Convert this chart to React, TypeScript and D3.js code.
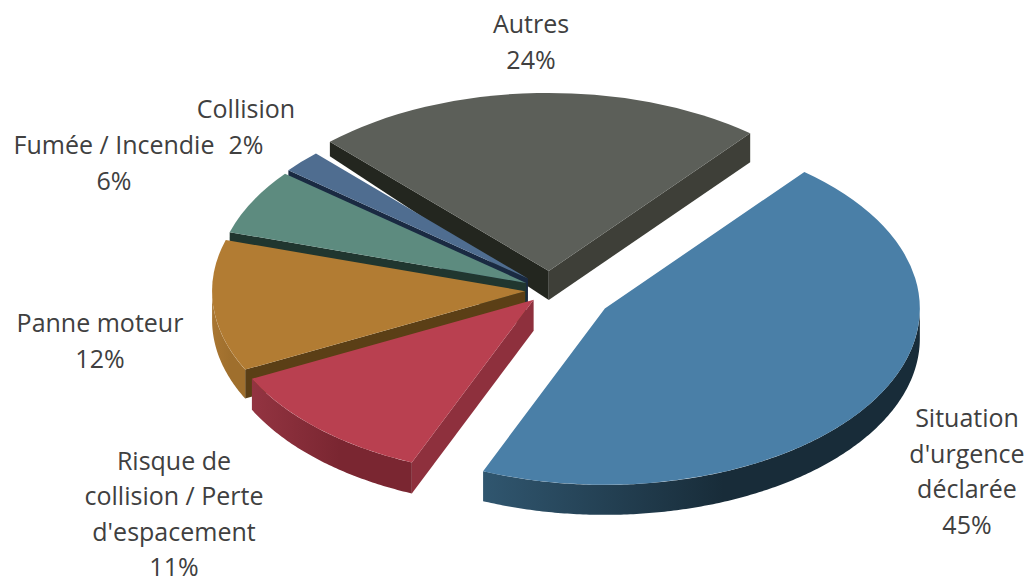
import * as d3 from "d3";

// values (labels show them rounded)
const categories = [
  "Situation d'urgence déclarée",
  "Risque de collision / Perte d'espacement",
  "Panne moteur",
  "Fumée / Incendie",
  "Collision",
  "Autres",
];
const values = [45.4, 11.3, 12.1, 6.1, 2.1, 23.0];

const explode = [64, 24, 25, 27, 30, 34];
const radii = [315, 315, 313, 310, 308, 318];
const depths = [30, 31, 29, 29, 29, 29];
const topColors = ["#4a7fa7", "#b94050", "#b27c33", "#5d8b7f", "#4f6d90", "#5c5f59"];
const cutColors = ["#1c3242", "#8e303d", "#5b3f16", "#20362f", "#1a2a42", "#23261f"];
const endCutColors = ["#1c3242", "#8e303d", "#5b3f16", "#20362f", "#1a2a42", "#3e3f38"];
const rimFrom = ["#30566f", "#933441", "#a97632", "#4f7a6f", "#3a5472", "#3e3f38"];
const rimTo = ["#182c39", "#7a2631", "#9f6f2d", "#4f7a6f", "#3a5472", "#3e3f38"];

// label lines, one list per text block
const labelBlocks = [
  { lines: ["Situation", "d'urgence", "déclarée", "45%"], x: 967, y: 427 },
  { lines: ["Risque de", "collision / Perte", "d'espacement", "11%"], x: 174, y: 469.5 },
  { lines: ["Panne moteur", "12%"], x: 100, y: 332 },
  { lines: ["Fumée / Incendie", "6%"], x: 114, y: 154 },
  { lines: ["Collision", "2%"], x: 246, y: 118 },
  { lines: ["Autres", "24%"], x: 531, y: 33 },
];

const width = 1026;
const height = 577;
const cx = 550;
const cy = 290;
const squash = 0.56;
const lineGap = 35.6;
const startAngle = (39.3 * Math.PI) / 180;

const pie = d3
  .pie<number>()
  .sort(null)
  .startAngle(startAngle)
  .endAngle(startAngle + 2 * Math.PI);
const arcs = pie(values);
const arc = d3.arc<d3.PieArcDatum<number>>().innerRadius(0);
const line = d3.line();

// point on the ellipse for a pie angle (0 = up, clockwise)
function rimPoint(a: number, r: number, drop = 0): [number, number] {
  return [r * Math.sin(a), -r * squash * Math.cos(a) + drop];
}

function cutWall(a: number, r: number, rimDrop: number, apexDrop: number) {
  const [x, y] = rimPoint(a, r);
  return line([
    [0, 0],
    [x, y],
    [x, y + rimDrop],
    [0, apexDrop],
  ]);
}

// only the part of the rim facing the viewer gets a wall
function rimWall(a0: number, a1: number, r: number, drop: number) {
  const from = Math.max(a0, Math.PI / 2);
  const to = Math.min(a1, (3 * Math.PI) / 2);
  if (from >= to) return null;
  const angles = d3.range(from, to, 0.01).concat(to);
  const top = angles.map((a) => rimPoint(a, r));
  const bottom = angles.map((a) => rimPoint(a, r, drop)).reverse();
  return line([...top, ...bottom]);
}

export default function App() {
  // back to front
  const order = [5, 4, 3, 2, 1, 0];
  return (
    <svg
      width={width}
      height={height}
      style={{ position: "absolute", left: 0, top: 0, background: "#fff" }}
    >
      <defs>
        {categories.map((_, i) => (
          <linearGradient key={i} id={`rim${i}`} x1="0" x2="1" y1="0" y2="0">
            <stop offset="0" stopColor={rimFrom[i]} />
            <stop offset="0.55" stopColor={rimTo[i]} />
          </linearGradient>
        ))}
      </defs>
      {order.map((i) => {
        const d = arcs[i];
        const r = radii[i];
        const depth = depths[i];
        const mid = (d.startAngle + d.endAngle) / 2;
        const ox = cx + explode[i] * Math.sin(mid);
        const oy = cy - explode[i] * squash * Math.cos(mid);
        // the far left corner of the back slice only shows half its depth
        const startDrop = i === 5 ? depth / 2 : depth;
        const rim = rimWall(d.startAngle, d.endAngle, r, depth);
        return (
          <g key={categories[i]} transform={`translate(${ox},${oy})`}>
            {Math.sin(d.startAngle) < 0 && (
              <path d={cutWall(d.startAngle, r, startDrop, depth) ?? ""} fill={cutColors[i]} />
            )}
            {Math.sin(d.endAngle) > 0 && (
              <path d={cutWall(d.endAngle, r, depth, depth) ?? ""} fill={endCutColors[i]} />
            )}
            {rim && <path d={rim} fill={`url(#rim${i})`} />}
            <path
              d={arc.outerRadius(r)(d) ?? ""}
              transform={`scale(1,${squash})`}
              fill={topColors[i]}
            />
          </g>
        );
      })}
      <g
        fontFamily="'Open Sans', sans-serif"
        fontSize={25}
        fill="#404040"
        textAnchor="middle"
      >
        {labelBlocks.map((b) =>
          b.lines.map((t, j) => (
            <text key={b.lines[0] + j} x={b.x} y={b.y + j * lineGap}>
              {t}
            </text>
          )),
        )}
      </g>
    </svg>
  );
}
